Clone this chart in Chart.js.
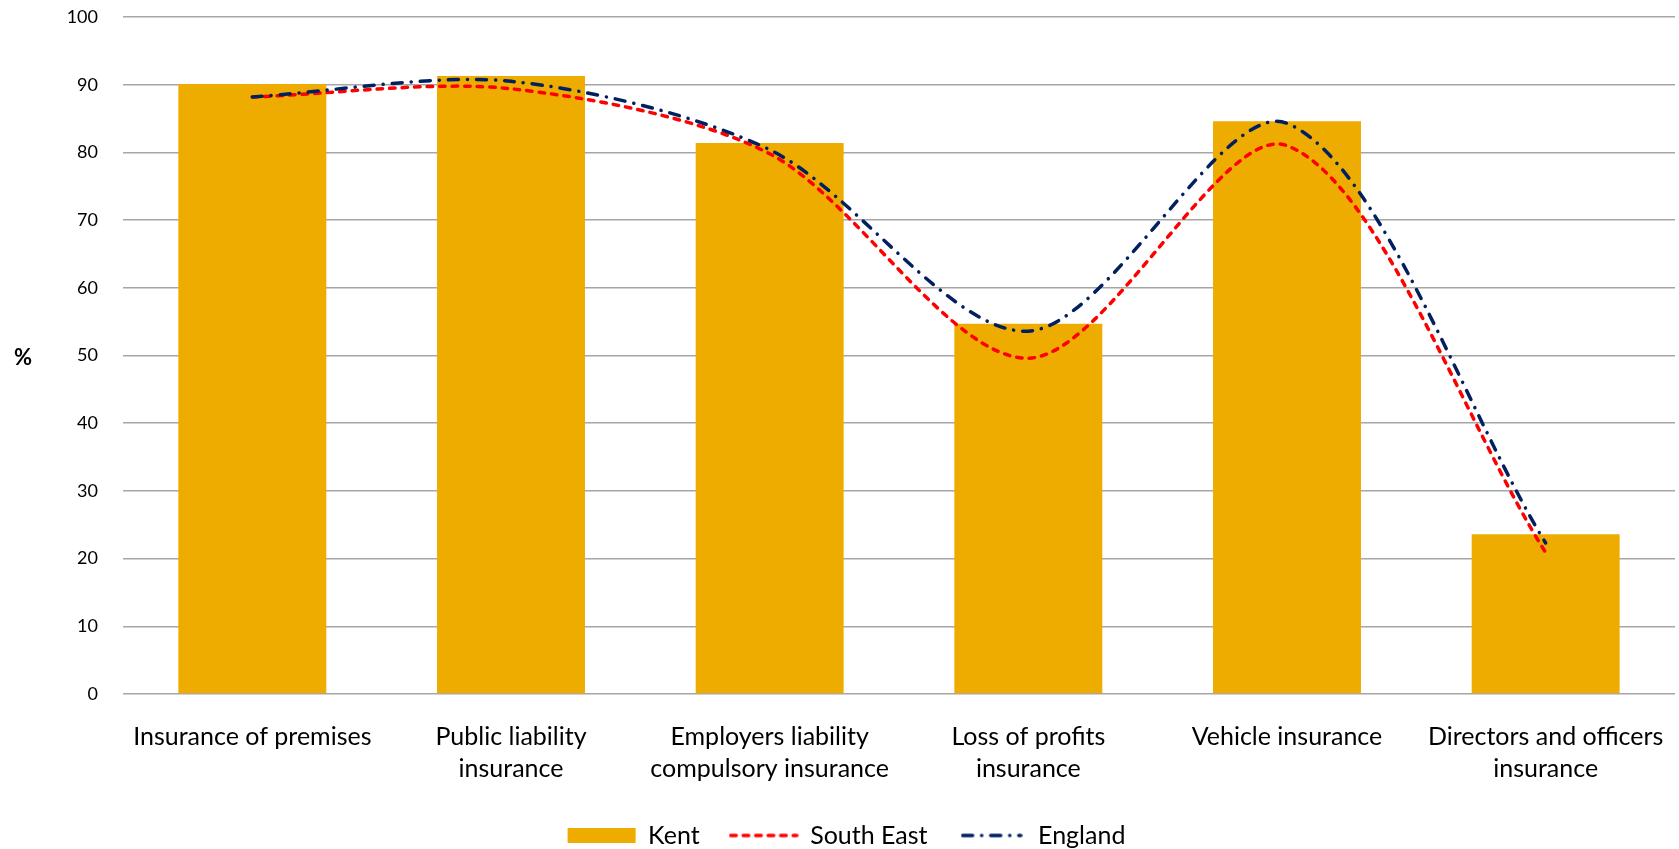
<!DOCTYPE html>
<html lang="en">
<head>
    <meta charset="UTF-8">
    <title>Business insurance - Kent, South East, England</title>
    <script src="https://cdn.jsdelivr.net/npm/chart.js"></script>
    <style>
        body { margin: 0; background: #fff; }
        #wrap { width: 1679px; height: 849px; position: relative; }
    </style>
</head>
<body>
    <div id="wrap"><canvas id="insChart"></canvas></div>

    <script>
        // values (%)
        const categories = [
            'Insurance of premises',
            ['Public liability', 'insurance'],
            ['Employers liability', 'compulsory insurance'],
            ['Loss of profits', 'insurance'],
            'Vehicle insurance',
            ['Directors and officers', 'insurance']
        ];
        const kent = [90.1, 91.3, 81.4, 54.7, 84.6, 23.6];
        const southEast = [88.2, 89.4, 79.8, 49.6, 81.0, 20.9];
        const england = [88.2, 90.5, 80.4, 53.6, 84.3, 22.3];
        const yTicks = [0, 10, 20, 30, 40, 50, 60, 70, 80, 90, 100];

        const FONT = 'Lato, "Open Sans", sans-serif';
        const RED_DASH = [5.5, 7];
        const NAVY_DASH = [10, 9, 0.1, 9];

        // small dashed swatch for the legend (the built-in point style draws it solid)
        function lineSwatch(color, dash, w) {
            const cv = document.createElement('canvas');
            cv.width = w;
            cv.height = 8;
            const g = cv.getContext('2d');
            g.strokeStyle = color;
            g.lineWidth = 3.5;
            g.lineCap = 'round';
            g.setLineDash(dash);
            g.beginPath();
            g.moveTo(2, 4);
            g.lineTo(w - 2, 4);
            g.stroke();
            return cv;
        }
        const swatches = [null, lineSwatch('#FF0000', RED_DASH, 70), lineSwatch('#002060', NAVY_DASH, 62)];

        // "%" label left of the axis, drawn upright
        const yTitle = {
            id: 'yTitle',
            afterDraw(chart) {
                const c = chart.ctx;
                const y = chart.scales.y;
                c.save();
                c.font = 'bold 22px ' + FONT;
                c.fillStyle = '#000';
                c.textAlign = 'center';
                c.textBaseline = 'middle';
                c.fillText('%', 23, y.getPixelForValue(50) + 2);
                c.restore();
            }
        };

        // legend sits a little right of centre in the original
        const legendNudge = {
            id: 'legendNudge',
            afterLayout(chart) {
                chart.legend.left += 9;
                chart.legend.right += 9;
            }
        };

        const ctx = document.getElementById('insChart').getContext('2d');
        new Chart(ctx, {
            data: {
                labels: categories,
                datasets: [{
                    type: 'bar',
                    label: 'Kent',
                    data: kent,
                    backgroundColor: '#EFAC00',
                    borderWidth: 0,
                    categoryPercentage: 1,
                    barPercentage: 0.572,
                    order: 2
                }, {
                    type: 'line',
                    label: 'South East',
                    data: southEast,
                    borderColor: '#FF0000',
                    backgroundColor: '#FF0000',
                    borderWidth: 3.5,
                    borderDash: RED_DASH,
                    borderCapStyle: 'round',
                    pointRadius: 0,
                    tension: 0.3,
                    fill: false,
                    order: 1
                }, {
                    type: 'line',
                    label: 'England',
                    data: england,
                    borderColor: '#002060',
                    backgroundColor: '#002060',
                    borderWidth: 3.5,
                    borderDash: NAVY_DASH,
                    borderCapStyle: 'round',
                    pointRadius: 0,
                    tension: 0.3,
                    fill: false,
                    order: 0
                }]
            },
            options: {
                responsive: true,
                maintainAspectRatio: false,
                animation: false,
                layout: { padding: { top: 17, right: 4, left: 0, bottom: -9 } },
                plugins: {
                    tooltip: { enabled: false },
                    legend: {
                        position: 'bottom',
                        labels: {
                            font: { family: FONT, size: 25 },
                            color: '#000',
                            usePointStyle: true,
                            pointStyleWidth: 68,
                            boxHeight: 15,
                            padding: 30,
                            generateLabels(chart) {
                                const items = Chart.defaults.plugins.legend.labels.generateLabels(chart);
                                items.sort((a, b) => a.datasetIndex - b.datasetIndex);
                                items.forEach(it => {
                                    it.pointStyle = swatches[it.datasetIndex] || 'rect';
                                });
                                return items;
                            }
                        }
                    }
                },
                scales: {
                    x: {
                        grid: { display: false, drawTicks: false },
                        border: { display: false },
                        ticks: {
                            font: { family: FONT, size: 25, lineHeight: 1.28 },
                            color: '#000',
                            padding: 27,
                            maxRotation: 0,
                            autoSkip: false
                        },
                        afterFit(scale) {
                            scale.height = 99;
                            scale.paddingLeft = 0;
                            scale.paddingRight = 0;
                            scale.paddingTop = 0;
                            scale.paddingBottom = 0;
                        }
                    },
                    y: {
                        min: 0,
                        max: 100,
                        afterBuildTicks(scale) {
                            scale.ticks = yTicks.map(v => ({ value: v }));
                        },
                        grid: { color: '#A6A6A6', lineWidth: 1.5, drawTicks: false },
                        border: { display: false },
                        ticks: {
                            font: { family: FONT, size: 18 },
                            color: '#000',
                            padding: 25
                        },
                        afterFit(scale) {
                            scale.width = 123;
                            scale.paddingTop = 0;
                            scale.paddingBottom = 0;
                        }
                    }
                }
            },
            plugins: [yTitle, legendNudge]
        });
    </script>
</body>
</html>
